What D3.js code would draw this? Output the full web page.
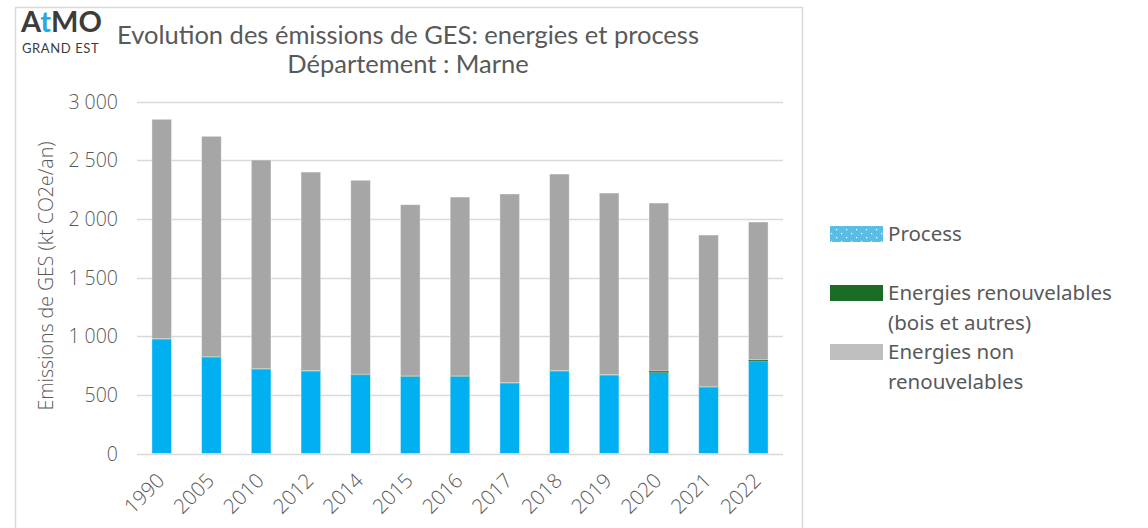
<!DOCTYPE html>
<html>
<head>
<meta charset="utf-8">
<script src="https://cdn.jsdelivr.net/npm/d3@7"></script>
<style>
  body { margin: 0; background: #fff; }
  .tick-label { font-family: "Open Sans", sans-serif; font-weight: 300; font-size: 19.5px; fill: #595959; }
  .legend-label { font-family: "Noto Sans", sans-serif; font-size: 20.5px; fill: #595959; }
</style>
</head>
<body>
<div id="chart-holder"></div>
<script>
// chart data (kt CO2e/an)
var years = ["1990", "2005", "2010", "2012", "2014", "2015", "2016", "2017", "2018", "2019", "2020", "2021", "2022"];
var process = [976, 820, 718, 701, 672, 658, 658, 601, 703, 669, 690, 564, 790];
var renouvelables = [3, 8, 7, 6, 4, 3, 3, 3, 4, 3, 14, 8, 12];
var nonRenouvelables = [1871, 1877, 1778, 1693, 1654, 1461, 1526, 1609, 1676, 1549, 1432, 1291, 1172];
var yTicks = [0, 500, 1000, 1500, 2000, 2500, 3000];
var seriesNames = ["Process", "Energies renouvelables", "Energies non renouvelables"];
var seriesColors = ["#00b0f0", "#1e6b24", "#a6a6a6"];

// build rows for the stack layout
var rows = years.map(function(y, i) {
  return { year: y, process: process[i], renouv: renouvelables[i], nonRenouv: nonRenouvelables[i] };
});
var stack = d3.stack().keys(["process", "renouv", "nonRenouv"]);
var layers = stack(rows);

var svg = d3.select("#chart-holder")
  .append("svg")
  .attr('width', 1148)
  .attr('height', 528);

svg.append("rect")
  .attr('width', 1148)
  .attr('height', 528)
  .attr('fill', '#fff');

// chart frame (no bottom edge visible)
svg.append("path")
  .attr('d', "M15.5,540 V7.5 H802.5 V540")
  .attr('fill', 'none')
  .attr('stroke', '#d9d9d9')
  .attr('stroke-width', 1.5);

// scales
var x = d3.scaleBand()
  .domain(years)
  .range([137, 783])
  .paddingInner(0.605)
  .paddingOuter(0.3);

var y = d3.scaleLinear()
  .domain([0, 3000])
  .range([453.5, 101.7]);

// gridlines
svg.selectAll("line.grid")
  .data(yTicks)
  .enter()
  .append("line")
  .attr('class', 'grid')
  .attr('x1', 137)
  .attr('x2', 783)
  .attr('y1', function(d) { return Math.round(y(d)) + 0.5; })
  .attr('y2', function(d) { return Math.round(y(d)) + 0.5; })
  .attr('stroke', '#d9d9d9')
  .attr('stroke-width', 1.5);

// y tick labels, space as thousands separator
var fmt = function(d) {
  return d3.format(",")(d).replace(/,/g, " ");
};
svg.selectAll("text.ylab")
  .data(yTicks)
  .enter()
  .append("text")
  .attr('class', 'tick-label')
  .attr('x', 118)
  .attr('y', function(d) { return y(d) + 7; })
  .attr('text-anchor', 'end')
  .style('white-space', 'pre')
  .text(fmt);

// stacked bars
svg.selectAll("g.layer")
  .data(layers)
  .enter()
  .append("g")
  .attr('class', 'layer')
  .attr('fill', function(d, i) { return seriesColors[i]; })
  .selectAll("rect")
  .data(function(d) { return d; })
  .enter()
  .append("rect")
  .attr('x', function(d) { return x(d.data.year); })
  .attr('y', function(d) { return y(d[1]); })
  .attr('width', x.bandwidth())
  .attr('height', function(d) { return y(d[0]) - y(d[1]); })
  .attr('stroke', function(d) { return d[1] - d[0] > 20 ? 'rgba(255,255,255,0.5)' : 'none'; })
  .attr('stroke-width', 0.8);

// x tick labels, rotated
svg.selectAll("text.xlab")
  .data(years)
  .enter()
  .append("text")
  .attr('class', 'tick-label')
  .attr('font-size', '20.5px')
  .style('font-size', '20.5px')
  .attr('text-anchor', 'end')
  .attr('transform', function(d) {
    return "translate(" + (x(d) + x.bandwidth() / 2 + 4) + ",482) rotate(-45)";
  })
  .text(function(d) { return d; });

// y axis title
svg.append("text")
  .attr('class', 'tick-label')
  .attr('transform', "translate(53,276) rotate(-90)")
  .attr('text-anchor', 'middle')
  .text("Emissions de GES (kt CO2e/an)");

// chart title
var title = svg.append("text")
  .attr('text-anchor', 'middle')
  .attr('font-family', 'Lato, sans-serif')
  .attr('font-size', 25.5)
  .attr('fill', '#595959');
title.append("tspan").attr('x', 408).attr('y', 44).text("Evolution des émissions de GES: energies et process");
title.append("tspan").attr('x', 408).attr('y', 73).text("Département : Marne");

// logo
var logo = svg.append("text")
  .attr('x', 21)
  .attr('y', 32)
  .attr('font-family', 'Lato, sans-serif')
  .attr('font-weight', 'bold')
  .attr('font-size', 29)
  .attr('fill', '#3c3c3c');
logo.append("tspan").text("A");
logo.append("tspan").attr('fill', '#29a9e0').text("t");
logo.append("tspan").text("MO");
svg.append("text")
  .attr('x', 22)
  .attr('y', 53)
  .attr('font-family', 'Lato, sans-serif')
  .attr('font-size', 13)
  .attr('letter-spacing', 0.6)
  .attr('fill', '#3c3c3c')
  .text("GRAND EST");

// legend
var defs = svg.append("defs");
var pat = defs.append("pattern")
  .attr('id', 'dots')
  .attr('width', 10)
  .attr('height', 8)
  .attr('patternUnits', 'userSpaceOnUse');
pat.append("rect").attr('width', 10).attr('height', 8).attr('fill', '#5bbce4');
pat.append("rect").attr('x', 1).attr('y', 1).attr('width', 1.2).attr('height', 1.2).attr('fill', '#fff');
pat.append("rect").attr('x', 6).attr('y', 5).attr('width', 1.2).attr('height', 1.2).attr('fill', '#fff');

var legendItems = [
  { fill: "url(#dots)", y: 226, lines: ["Process"] },
  { fill: "#1a6b26", y: 285, lines: ["Energies renouvelables", "(bois et autres)"] },
  { fill: "#bfbfbf", y: 344, lines: ["Energies non", "renouvelables"] }
];
legendItems.forEach(function(item) {
  svg.append("rect")
    .attr('x', 830)
    .attr('y', item.y)
    .attr('width', 53)
    .attr('height', 16)
    .attr('fill', item.fill);
  var t = svg.append("text").attr('class', 'legend-label');
  item.lines.forEach(function(line, j) {
    t.append("tspan")
      .attr('x', 888)
      .attr('y', item.y + 15 + j * 30)
      .text(line);
  });
});
</script>
</body>
</html>
